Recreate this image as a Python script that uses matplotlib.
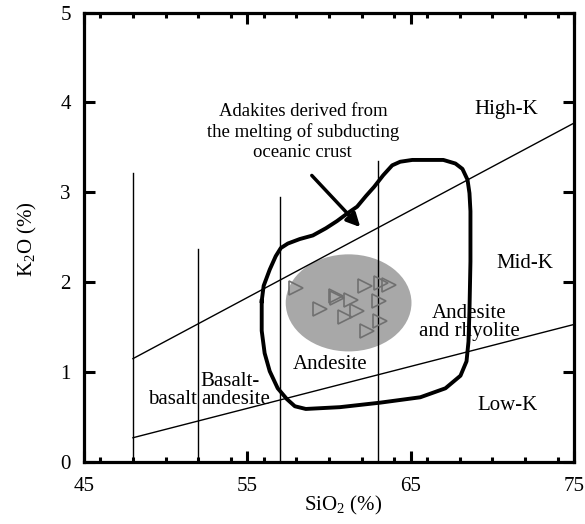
import matplotlib
matplotlib.use("Agg")
import matplotlib.pyplot as plt
from matplotlib.patches import Ellipse, FancyArrowPatch
from matplotlib.ticker import MultipleLocator

plt.rcParams['font.family'] = ['Liberation Serif', 'DejaVu Serif']
plt.rcParams['mathtext.fontset'] = 'custom'
plt.rcParams['mathtext.rm'] = 'Liberation Serif'

# sample points (SiO2, K2O)
sio2 = [58.0, 60.4, 60.5, 61.35, 59.45, 61.7, 61.0, 62.2, 63.2, 63.7, 63.05, 63.15, 62.3]
k2o = [1.94, 1.85, 1.82, 1.80, 1.70, 1.68, 1.61, 1.96, 1.99, 1.97, 1.79, 1.57, 1.46]

# classification lines
divider_x = [48, 52, 57, 63]
divider_top = [3.22, 2.37, 2.95, 3.35]
highk_x = [48, 75]
highk_y = [1.15, 3.77]
lowk_x = [48, 75]
lowk_y = [0.27, 1.53]

# adakite field outline
adakite_x = [55.88, 56.00, 56.37, 56.74, 57.05, 57.48, 58.21, 59.01, 59.81, 60.49,
             61.16, 61.72, 62.27, 62.76, 63.32, 63.87, 64.36, 65.10, 67.00, 67.74,
             68.17, 68.48, 68.60, 68.66, 68.66, 68.60, 68.54, 68.42, 68.05, 67.13,
             65.59, 63.13, 60.67, 58.58, 57.91, 57.42, 56.86, 56.37, 56.06, 55.88, 55.88]
adakite_y = [1.79, 1.96, 2.14, 2.29, 2.38, 2.43, 2.48, 2.52, 2.60, 2.68,
             2.77, 2.84, 2.96, 3.06, 3.19, 3.30, 3.34, 3.36, 3.36, 3.32,
             3.26, 3.14, 2.99, 2.79, 2.23, 1.68, 1.34, 1.12, 0.96, 0.82,
             0.72, 0.66, 0.61, 0.59, 0.62, 0.70, 0.82, 1.01, 1.21, 1.46, 1.79]

# gray ellipse (center, width, height)
ell_center = (61.2, 1.77)
ell_size = (7.7, 1.08)

fig = plt.figure(figsize=(5.85, 5.24), dpi=100)
ax = fig.add_axes([84 / 585, 62 / 524, 490 / 585, 449.5 / 524])
ax.set_xlim(45, 75)
ax.set_ylim(0, 5)

ax.add_patch(Ellipse(ell_center, ell_size[0], ell_size[1], facecolor='#a8a8a8',
                     edgecolor='none', zorder=1))

for x, t in zip(divider_x, divider_top):
    ax.plot([x, x], [0, t], color='black', lw=1.0, zorder=2)
ax.plot(highk_x, highk_y, color='black', lw=1.0, zorder=2)
ax.plot(lowk_x, lowk_y, color='black', lw=1.0, zorder=2)

ax.plot(adakite_x, adakite_y, color='black', lw=2.8, zorder=3,
        solid_joinstyle='round')

ax.plot(sio2, k2o, linestyle='none', marker='>', markersize=10.5,
        markerfacecolor='none', markeredgecolor='#707070', markeredgewidth=1.2, zorder=4)

ax.add_patch(FancyArrowPatch((58.83, 3.21), (62.03, 2.59), arrowstyle='-|>',
                             mutation_scale=20, lw=2.5, color='black', zorder=5))

fs = 15
ax.text(58.4, 3.67, "Adakites derived from\nthe melting of subducting\noceanic crust",
        ha='center', va='center', fontsize=13.5, linespacing=1.25)
ax.text(70.85, 3.92, "High-K", ha='center', va='center', fontsize=fs)
ax.text(72.0, 2.21, "Mid-K", ha='center', va='center', fontsize=fs)
ax.text(68.6, 1.55, "Andesite\nand rhyolite", ha='center', va='center', fontsize=fs,
        linespacing=0.95)
ax.text(60.06, 1.08, "Andesite", ha='center', va='center', fontsize=fs)
ax.text(52.1, 0.89, "Basalt-", ha='left', va='center', fontsize=fs)
ax.text(52.15, 0.69, "andesite", ha='left', va='center', fontsize=fs)
ax.text(50.42, 0.69, "basalt", ha='center', va='center', fontsize=fs)
ax.text(70.9, 0.63, "Low-K", ha='center', va='center', fontsize=fs)

ax.set_xticks([45, 55, 65, 75])
ax.xaxis.set_minor_locator(MultipleLocator(2))
ax.set_yticks([0, 1, 2, 3, 4, 5])
ax.tick_params(which='major', direction='in', length=8, width=2.2, top=True, right=True,
               labelsize=15)
ax.tick_params(axis='x', which='major', pad=11)
ax.tick_params(axis='y', which='major', pad=9.5)
ax.tick_params(which='minor', axis='x', direction='in', length=3.5, width=2.2, top=True)
for s in ax.spines.values():
    s.set_linewidth(2.3)

ax.set_xlabel("SiO$_2$ (%)", fontsize=15)
ax.xaxis.label.set_va('center')
ax.xaxis.set_label_coords(0.529, -0.0957)
ax.set_ylabel("K$_2$O (%)", fontsize=15)
ax.yaxis.label.set_va('center')
ax.yaxis.set_label_coords(-0.1163, 0.496)

fig.savefig("out.png", dpi=100)
